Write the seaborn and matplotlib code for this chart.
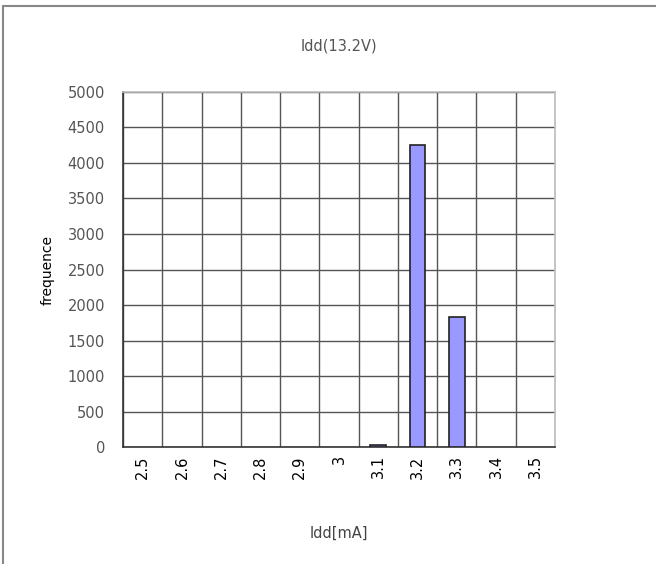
import matplotlib
matplotlib.use('Agg')
import matplotlib.pyplot as plt
import seaborn as sns
import numpy as np
from matplotlib.lines import Line2D

# data
bins = ['2.5', '2.6', '2.7', '2.8', '2.9', '3', '3.1', '3.2', '3.3', '3.4', '3.5']
counts = [0, 0, 0, 0, 0, 0, 30, 4250, 1830, 0, 0]
yticks = [0, 500, 1000, 1500, 2000, 2500, 3000, 3500, 4000, 4500, 5000]

sns.set_style('white')
plt.rcParams['font.family'] = ['DejaVu Sans']

fig = plt.figure(figsize=(6.56, 5.64), dpi=100)
ax = fig.add_axes([0.1875, 0.2074, 0.6585, 0.6295])

sns.barplot(x=bins, y=counts, ax=ax, color='#9999ff', edgecolor='#222222',
            linewidth=1.2, width=0.4, saturation=1, zorder=3)
# empty bins show nothing
for p in ax.patches:
    if p.get_height() == 0:
        p.set_visible(False)

ax.set_xlim(-0.5, len(bins) - 0.5)
ax.set_ylim(0, 5000)
ax.set_yticks(yticks)
ax.set_yticklabels([str(v) for v in yticks], color='#555555', fontsize=10.5)

# gridlines on category boundaries
ax.set_xticks(np.arange(len(bins)) - 0.5, minor=True)
ax.grid(True, which='minor', axis='x', color='#555555', linewidth=1, zorder=0)
ax.grid(True, which='major', axis='y', color='#555555', linewidth=1, zorder=0)
ax.tick_params(axis='x', which='both', length=0, pad=6)
ax.tick_params(axis='y', length=0, pad=13)
plt.setp(ax.get_xticklabels(), rotation=90, fontsize=10.5, color='black')

for side in ['top', 'right']:
    ax.spines[side].set_color('#bbbbbb')
    ax.spines[side].set_linewidth(1.2)
for side in ['left', 'bottom']:
    ax.spines[side].set_color('#333333')
    ax.spines[side].set_linewidth(1.2)

ax.set_xlabel('Idd[mA]', fontsize=10.5, color='#444444')
ax.xaxis.set_label_coords(0.5, -0.242)
ax.xaxis.label.set_va('center')
ax.set_ylabel('frequence', fontsize=10, color='black')
ax.yaxis.set_label_coords(-0.174, 0.5)
ax.yaxis.label.set_va('center')
ax.set_title('Idd(13.2V)', fontsize=10.5, color='#555555', y=1.118, pad=0)

# outer frame (top and left edges only)
fig.add_artist(Line2D([3 / 656, 1], [1 - 6 / 564, 1 - 6 / 564], color='#888888', linewidth=1.5))
fig.add_artist(Line2D([3 / 656, 3 / 656], [0, 1 - 6 / 564], color='#888888', linewidth=1.5))

fig.savefig('out.png', dpi=100)
